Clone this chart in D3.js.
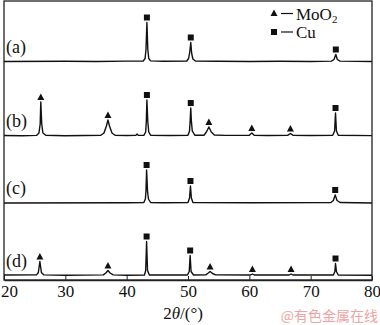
<!DOCTYPE html>
<html><head><meta charset="utf-8">
<script src="https://cdn.jsdelivr.net/npm/d3@7"></script>
<style>body{margin:0;background:#fff}svg{display:block}</style>
</head><body>
<script>
// ---- data ----
const xTicks = [20, 30, 40, 50, 60, 70, 80];
const panelLabels = ["(a)", "(b)", "(c)", "(d)"];
const offsets = [218.5, 144, 77, 4.5];
const traceA = [[20,0],[30,0.3],[35,0],[40,0.4],[42.7,0.5],[43.0,3],[43.15,12],[43.3,39],[43.45,12],[43.6,3],[43.9,0.6],[46,0.3],[49.8,0.5],[50.1,3],[50.3,10],[50.45,19],[50.6,8],[50.8,2.5],[51.2,0.5],[55,0.3],[60,0],[65,0.3],[70,0],[73.4,0.4],[73.8,2],[74.1,7],[74.35,2],[74.8,0.4],[80,0]];
const traceB = [[20,0.5],[23,0.3],[25.3,0.6],[25.7,3],[25.9,12],[26.0,34],[26.15,12],[26.35,3],[26.8,0.8],[30,0.3],[33,0.5],[35.8,0.8],[36.3,3],[36.7,10],[36.95,16],[37.2,10],[37.6,3],[38.1,0.8],[40,0.5],[41.5,0.6],[41.7,2],[41.9,0.6],[42.8,0.6],[43.1,4],[43.2,14],[43.3,36],[43.45,14],[43.6,4],[43.9,0.8],[47,0.5],[50.0,0.8],[50.25,5],[50.35,15],[50.45,28],[50.55,15],[50.7,5],[51.1,0.8],[52.6,0.8],[53.0,4],[53.4,9],[53.8,4],[54.3,1],[56,0.6],[60.0,0.8],[60.4,3],[60.8,0.8],[63,0.5],[66.3,0.8],[66.7,2.5],[67.1,0.8],[70,0.5],[73.6,0.8],[73.9,5],[74.05,23],[74.2,5],[74.5,0.8],[80,0.4]];
const traceC = [[20,0],[40,0.3],[42.8,0.5],[43.05,4],[43.15,12],[43.25,33],[43.4,12],[43.55,4],[43.9,0.5],[46,0.2],[50.0,0.5],[50.25,5],[50.4,17],[50.55,5],[50.8,0.5],[60,0.2],[73.3,0.5],[73.7,2.5],[74.0,8],[74.3,2.5],[74.8,0.5],[80,0]];
const traceD = [[20,0.5],[25.3,0.6],[25.6,3],[25.85,14],[26.1,3],[26.5,0.6],[30,0.3],[36.2,0.6],[36.6,2.5],[36.95,5],[37.3,2.5],[37.8,0.6],[40,0.3],[42.9,0.5],[43.1,5],[43.25,34],[43.4,5],[43.7,0.5],[49.9,0.5],[50.2,4],[50.35,20],[50.5,4],[50.9,0.5],[52.9,0.6],[53.3,2.5],[53.6,4],[54,2],[54.5,0.6],[60.2,0.5],[60.5,1.5],[60.8,0.5],[66.5,0.5],[66.8,1.5],[67.1,0.5],[73.7,0.5],[73.95,4],[74.05,12],[74.2,4],[74.5,0.5],[80,0.3]];
const markersA = [[43.3,39,"Cu"],[50.45,19,"Cu"],[74.1,7,"Cu"]];
const markersB = [[26.0,34,"MoO2"],[36.95,16,"MoO2"],[43.3,36,"Cu"],[50.45,28,"Cu"],[53.4,9,"MoO2"],[60.4,3,"MoO2"],[66.7,2.5,"MoO2"],[74.05,23,"Cu"]];
const markersC = [[43.25,33,"Cu"],[50.4,17,"Cu"],[74.0,8,"Cu"]];
const markersD = [[25.85,14,"MoO2"],[36.95,5,"MoO2"],[43.25,34,"Cu"],[50.35,20,"Cu"],[53.6,4,"MoO2"],[60.5,1.5,"MoO2"],[66.8,1.5,"MoO2"],[74.05,12,"Cu"]];
const traces = [traceA, traceB, traceC, traceD];
const markers = [markersA, markersB, markersC, markersD];

// ---- chart ----
(function () {
const W = 380, H = 325;
const mL = 4, mR = 372, mT = 1, mB = 280;
const svg = d3.select("body").append("svg").attr("width", W).attr("height", H);
const x = d3.scaleLinear().domain([20, 80]).range([mL, mR]);
const y = d3.scaleLinear().domain([0, mB]).range([mB, 0]);
const serif = "'Liberation Serif','Times New Roman',serif";

// frame
svg.append("rect").attr("x", mL).attr("y", mT).attr("width", mR - mL).attr("height", mB - mT)
  .attr("fill", "none").attr("stroke", "#222").attr("stroke-width", 1.3);

// bottom axis (ticks inside)
const ax = svg.append("g").attr("transform", `translate(0,${mB})`)
  .call(d3.axisBottom(x).tickValues(xTicks).tickSizeInner(-4).tickSizeOuter(0).tickPadding(8).tickFormat(d3.format("d")));
ax.select(".domain").attr("stroke", "#222").attr("stroke-width", 1.3);
ax.selectAll(".tick line").attr("stroke", "#222").attr("stroke-width", 1);
ax.selectAll(".tick text").attr("font-family", serif).attr("font-size", 17).attr("fill", "#111")
  .attr("dy", "0.71em").attr("y", 5)
  .attr("dx", d => d === 20 ? 5 : 0);

// axis title
const t = svg.append("text").attr("x", 183).attr("y", 319).attr("text-anchor", "middle")
  .attr("font-family", serif).attr("font-size", 17).attr("fill", "#111");
t.append("tspan").text("2");
t.append("tspan").attr("font-style", "italic").text("θ");
t.append("tspan").text("/(°)");

// traces
const line = d3.line().x(d => x(d[0]));
traces.forEach((tr, i) => {
  svg.append("path").datum(tr)
    .attr("d", line.y(d => y(d[1] + offsets[i])))
    .attr("fill", "none").attr("stroke", "#111").attr("stroke-width", 1.4).attr("stroke-linejoin", "round");
  svg.append("text").attr("x", 6).attr("y", y(offsets[i]) - 9)
    .attr("font-family", serif).attr("font-size", 18).attr("fill", "#111").text(panelLabels[i]);
  markers[i].forEach(m => {
    const cx = x(m[0]), cy = y(m[1] + offsets[i]) - 5;
    if (m[2] === "Cu") {
      svg.append("rect").attr("x", cx - 3).attr("y", cy - 3).attr("width", 6).attr("height", 6).attr("fill", "#111");
    } else {
      svg.append("path").attr("d", `M${cx - 3.5},${cy + 3}L${cx + 3.5},${cy + 3}L${cx},${cy - 3.5}Z`).attr("fill", "#111");
    }
  });
});

// legend
const lg = svg.append("g");
lg.append("path").attr("d", "M270.5,16L277.5,16L274,9.5Z").attr("fill", "#111");
lg.append("line").attr("x1", 281).attr("x2", 293).attr("y1", 13.5).attr("y2", 13.5).attr("stroke", "#111").attr("stroke-width", 1.2);
const lt = lg.append("text").attr("x", 296).attr("y", 20).attr("font-family", serif).attr("font-size", 17).attr("fill", "#111");
lt.append("tspan").text("MoO");
lt.append("tspan").attr("font-size", 11).attr("dy", 3).text("2");
lg.append("rect").attr("x", 271).attr("y", 29).attr("width", 6).attr("height", 6).attr("fill", "#111");
lg.append("line").attr("x1", 281).attr("x2", 293).attr("y1", 32).attr("y2", 32).attr("stroke", "#111").attr("stroke-width", 1.2);
lg.append("text").attr("x", 296).attr("y", 38).attr("font-family", serif).attr("font-size", 17).attr("fill", "#111").text("Cu");

// watermark
svg.append("text").attr("x", 378).attr("y", 321).attr("text-anchor", "end")
  .attr("font-family", "'Noto Sans CJK SC',sans-serif").attr("font-size", 14).attr("fill", "#f0a3a3")
  .text("@有色金属在线");
})();
</script>
</body></html>
